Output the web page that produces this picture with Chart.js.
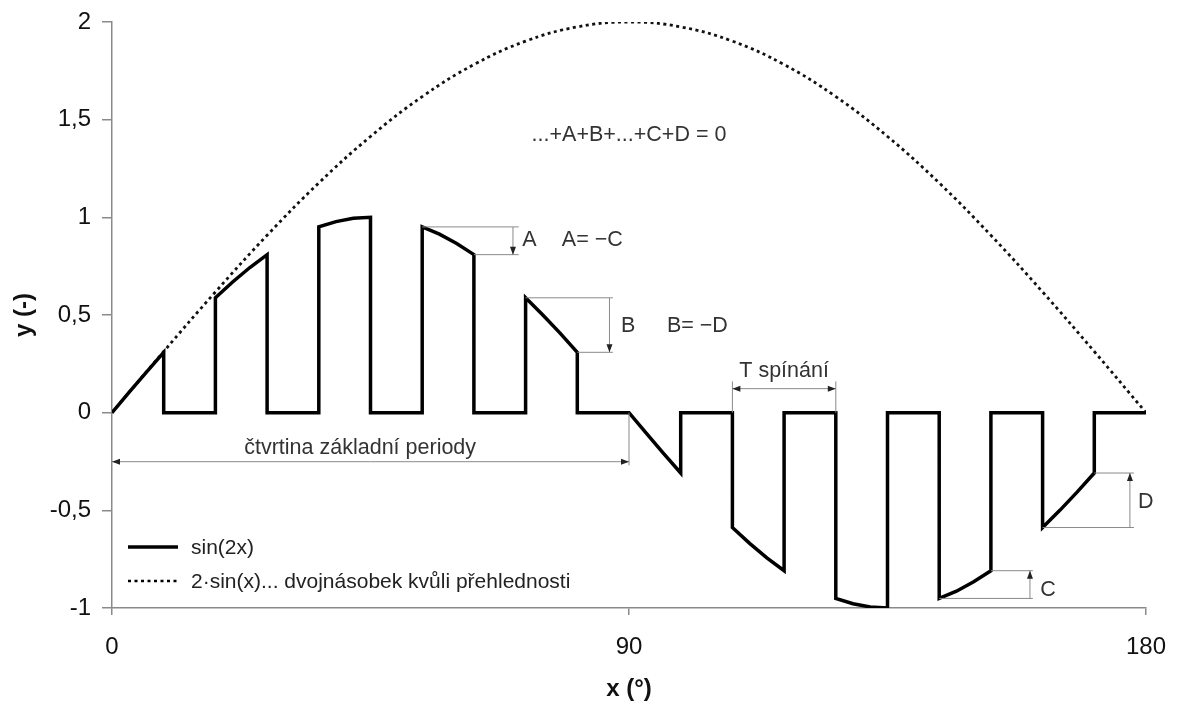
<!DOCTYPE html>
<html>
<head>
<meta charset="utf-8">
<script src="https://cdn.jsdelivr.net/npm/chart.js@4.4.1/dist/chart.umd.min.js"></script>
<style>
  html, body { margin: 0; padding: 0; background: #fff; }
  canvas { display: block; }
</style>
</head>
<body>
<canvas id="chart" width="1178" height="704"></canvas>
<script>
// sin(2x) is switched on for 9° out of every 18°
const pulseStarts = [0, 18, 36, 54, 72, 90, 108, 126, 144, 162];
const pulseOffsets = [0, 3, 6, 9];
const pulseValues = [
  [0, 0.105, 0.208, 0.309],
  [0.588, 0.669, 0.743, 0.809],
  [0.951, 0.978, 0.995, 1],
  [0.951, 0.914, 0.866, 0.809],
  [0.588, 0.5, 0.407, 0.309],
  [0, -0.105, -0.208, -0.309],
  [-0.588, -0.669, -0.743, -0.809],
  [-0.951, -0.978, -0.995, -1],
  [-0.951, -0.914, -0.866, -0.809],
  [-0.588, -0.5, -0.407, -0.309]
];

// 2·sin(x) reference curve
const refX = [0, 9, 18, 27, 36, 45, 54, 63, 72, 81, 90, 99, 108, 117, 126, 135, 144, 153, 162, 171, 180];
const refY = [0, 0.313, 0.618, 0.908, 1.176, 1.414, 1.618, 1.782, 1.902, 1.975, 2,
              1.975, 1.902, 1.782, 1.618, 1.414, 1.176, 0.908, 0.618, 0.313, 0];

const xTicks = [0, 90, 180];
const yTicks = [-1, -0.5, 0, 0.5, 1, 1.5, 2];

const legendLabels = ['sin(2x)', '2·sin(x)... dvojnásobek kvůli přehlednosti'];

const FONT = '"Liberation Sans", Arial, sans-serif';
const GREY = '#8a8a8a';

// step-like trace: zero between pulses, vertical edges at each switch
function pulsePoints() {
  const pts = [];
  pulseStarts.forEach((s, k) => {
    pts.push({ x: s, y: 0 });
    pulseOffsets.forEach((o, j) => pts.push({ x: s + o, y: pulseValues[k][j] }));
    pts.push({ x: s + pulseOffsets[pulseOffsets.length - 1], y: 0 });
  });
  pts.push({ x: 180, y: 0 });
  return pts;
}

// dimension lines, arrows, labels and the legend
const notes = {
  id: 'notes',
  afterDatasetsDraw(chart) {
    const ctx = chart.ctx;
    const sx = chart.scales.x, sy = chart.scales.y;
    const px = v => sx.getPixelForValue(v);
    const py = v => sy.getPixelForValue(v);

    const line = (x1, y1, x2, y2) => {
      ctx.beginPath();
      ctx.moveTo(px(x1), py(y1));
      ctx.lineTo(px(x2), py(y2));
      ctx.stroke();
    };
    // filled arrow head at a data point, pointing l, r, u or d
    const head = (x, y, dir) => {
      const X = px(x), Y = py(y), L = 8, W = 3;
      ctx.beginPath();
      if (dir === 'l') { ctx.moveTo(X, Y); ctx.lineTo(X + L, Y - W); ctx.lineTo(X + L, Y + W); }
      if (dir === 'r') { ctx.moveTo(X, Y); ctx.lineTo(X - L, Y - W); ctx.lineTo(X - L, Y + W); }
      if (dir === 'd') { ctx.moveTo(X, Y); ctx.lineTo(X - W, Y - L); ctx.lineTo(X + W, Y - L); }
      if (dir === 'u') { ctx.moveTo(X, Y); ctx.lineTo(X - W, Y + L); ctx.lineTo(X + W, Y + L); }
      ctx.closePath();
      ctx.fill();
    };
    const text = (s, x, y, align) => {
      ctx.textAlign = align || 'left';
      ctx.fillText(s, px(x), py(y));
    };

    ctx.save();
    ctx.strokeStyle = GREY;
    ctx.fillStyle = '#222';
    ctx.lineWidth = 1;

    // A
    line(54, 0.951, 70.8, 0.951);
    line(63, 0.809, 70.8, 0.809);
    line(69.8, 0.951, 69.8, 0.809);
    head(69.8, 0.809, 'd');
    // B
    line(72, 0.588, 87.2, 0.588);
    line(81, 0.309, 87.2, 0.309);
    line(86.6, 0.588, 86.6, 0.309);
    head(86.6, 0.309, 'd');
    // C
    line(144, -0.951, 160.3, -0.951);
    line(153, -0.809, 160.3, -0.809);
    line(159.8, -0.951, 159.8, -0.809);
    head(159.8, -0.809, 'u');
    // D
    line(162, -0.588, 177.9, -0.588);
    line(171, -0.309, 177.9, -0.309);
    line(177.2, -0.588, 177.2, -0.309);
    head(177.2, -0.309, 'u');
    // switching period
    line(108, 0, 108, 0.16);
    line(126, 0, 126, 0.16);
    line(108, 0.123, 126, 0.123);
    head(108, 0.123, 'l');
    head(126, 0.123, 'r');
    // quarter of the fundamental period
    line(90, 0, 90, -0.27);
    line(0, -0.251, 90, -0.251);
    head(0, -0.251, 'l');
    head(90, -0.251, 'r');

    ctx.font = '21.5px ' + FONT;
    ctx.fillStyle = '#333';
    ctx.textBaseline = 'middle';
    text('A', 71.4, 0.885);
    text('A= \u2212C', 78.3, 0.885);
    text('B', 88.6, 0.445);
    text('B= \u2212D', 96.6, 0.445);
    text('C', 161.6, -0.906);
    text('D', 178.6, -0.46);
    text('T spínání', 117, 0.215, 'center');
    text('čtvrtina základní periody', 43.2, -0.18, 'center');
    text('...+A+B+...+C+D = 0', 90, 1.423, 'center');

    // legend
    const a = chart.chartArea;
    const lx = a.left + 16, ly = a.bottom - 61;
    ctx.strokeStyle = '#000';
    ctx.lineWidth = 3.5;
    ctx.beginPath();
    ctx.moveTo(lx, ly); ctx.lineTo(lx + 50, ly);
    ctx.stroke();
    ctx.lineWidth = 2.5;
    ctx.setLineDash([3, 3.5]);
    ctx.beginPath();
    ctx.moveTo(lx, ly + 34); ctx.lineTo(lx + 50, ly + 34);
    ctx.stroke();
    ctx.setLineDash([]);
    ctx.font = '21px ' + FONT;
    ctx.fillStyle = '#222';
    ctx.textAlign = 'left';
    ctx.fillText(legendLabels[0], lx + 63, ly + 1);
    ctx.fillText(legendLabels[1], lx + 63, ly + 35);
    ctx.restore();
  }
};

new Chart(document.getElementById('chart'), {
  type: 'line',
  data: {
    datasets: [
      {
        label: legendLabels[0],
        data: pulsePoints(),
        borderColor: '#000',
        borderWidth: 3.5,
        borderJoinStyle: 'miter',
        pointRadius: 0,
        tension: 0
      },
      {
        label: legendLabels[1],
        data: refX.map((x, i) => ({ x: x, y: refY[i] })),
        borderColor: '#111',
        borderWidth: 2.8,
        borderDash: [3, 3.5],
        pointRadius: 0,
        tension: 0.4
      }
    ]
  },
  options: {
    responsive: false,
    animation: false,
    layout: { padding: { top: 22, right: 32, left: 0, bottom: 0 } },
    plugins: {
      legend: { display: false },
      tooltip: { enabled: false }
    },
    scales: {
      x: {
        type: 'linear',
        min: 0,
        max: 180,
        afterFit: s => { s.height = 96; s.paddingLeft = 0; s.paddingRight = 0; },
        afterBuildTicks: s => { s.ticks = xTicks.map(v => ({ value: v })); },
        border: { color: GREY, width: 1.5 },
        grid: { drawOnChartArea: false, color: GREY, tickLength: 7, lineWidth: 1.5 },
        ticks: { color: '#111', font: { family: FONT, size: 24 }, padding: 18 },
        title: {
          display: true,
          text: 'x (°)',
          color: '#111',
          font: { family: FONT, size: 24, weight: 'bold' },
          padding: { top: 0, bottom: 0 }
        }
      },
      y: {
        min: -1,
        max: 2,
        afterFit: s => { s.width = 112; s.paddingTop = 0; s.paddingBottom = 0; },
        afterBuildTicks: s => { s.ticks = yTicks.map(v => ({ value: v })); },
        border: { color: GREY, width: 1.5 },
        grid: { drawOnChartArea: false, color: GREY, tickLength: 10, lineWidth: 1.5 },
        ticks: {
          color: '#111',
          font: { family: FONT, size: 24 },
          padding: 11,
          callback: v => String(v).replace('.', ',')
        },
        title: {
          display: true,
          text: 'y (-)',
          color: '#111',
          font: { family: FONT, size: 24, weight: 'bold' },
          padding: { top: 10, bottom: 0 }
        }
      }
    }
  },
  plugins: [notes]
});
</script>
</body>
</html>
